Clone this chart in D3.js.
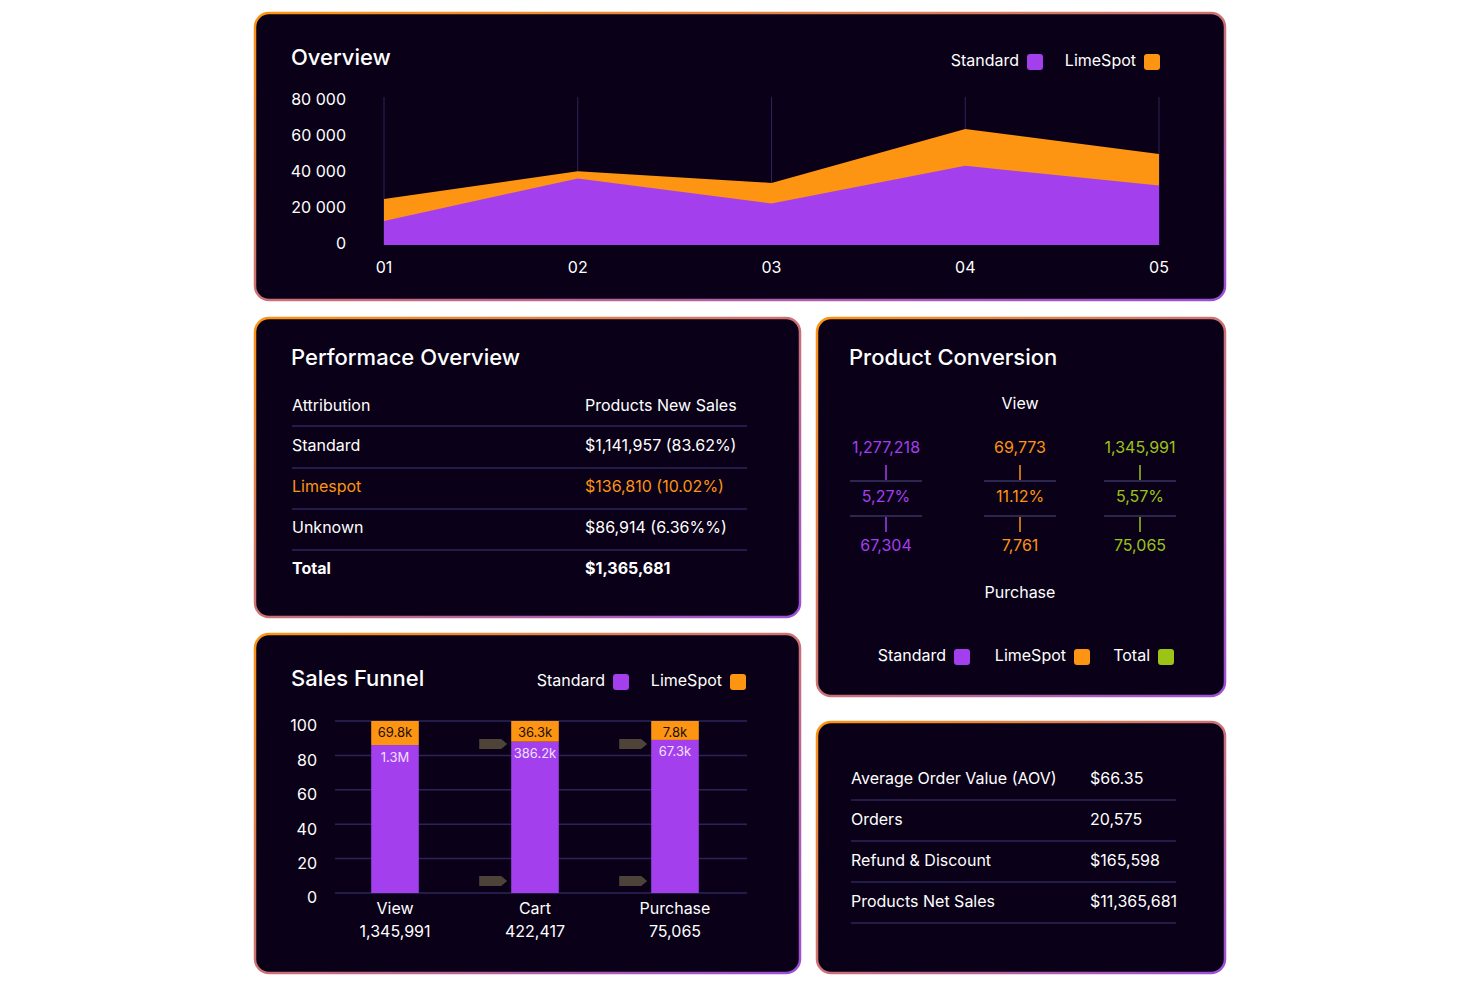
<!DOCTYPE html>
<html><head><meta charset="utf-8">
<script src="https://cdn.jsdelivr.net/npm/d3@7"></script>
<style>body{margin:0;background:#fff}svg{display:block;font-family:Inter,"Open Sans",sans-serif}</style>
</head><body><svg id="c" width="1480" height="987"></svg>
<script>
const periods=["01","02","03","04","05"];
const standardArea=[13300,37000,23000,44000,33000];
const limespotArea=[12200,4000,11500,20500,17500];
const areaTicks=[0,20000,40000,60000,80000];
const perfRows=[["Standard","$1,141,957 (83.62%)"],["Limespot","$136,810 (10.02%)"],["Unknown","$86,914 (6.36%%)"],["Total","$1,365,681"]];
const convCols=[{top:"1,277,218",mid:"5,27%",bot:"67,304",c:"#a43fee"},{top:"69,773",mid:"11.12%",bot:"7,761",c:"#fd9412"},{top:"1,345,991",mid:"5,57%",bot:"75,065",c:"#9dc316"}];
const funnelStages=["View","Cart","Purchase"];
const funnelTotals=["1,345,991","422,417","75,065"];
const funnelStd=[86,88,89];
const funnelLime=[14,12,11];
const funnelStdLbl=["1.3M","386.2k","67.3k"];
const funnelLimeLbl=["69.8k","36.3k","7.8k"];
const funnelTicks=[0,20,40,60,80,100];
const kpiRows=[["Average Order Value (AOV)","$66.35"],["Orders","20,575"],["Refund & Discount","$165,598"],["Products Net Sales","$11,365,681"]];

const P="#a43fee",O="#fd9412",G="#9dc316",BG="#0a0118",GRID="#2c2458";
const svg=d3.select("#c");
const defs=svg.append("defs");
const gr=defs.append("linearGradient").attr("id","bd").attr("x1","0").attr("y1","0").attr("x2","1").attr("y2","1");
gr.append("stop").attr("offset","0").attr("stop-color",O);
gr.append("stop").attr("offset","1").attr("stop-color","#9b4fd8");
function panel(x,y,w,h){svg.append("rect").attr("x",x).attr("y",y).attr("width",w).attr("height",h).attr("rx",14).attr("fill",BG).attr("stroke","url(#bd)").attr("stroke-width",2.5);}
function txt(x,y,t,o={}){return svg.append("text").attr("x",x).attr("y",y).text(t).attr("fill",o.fill||"#fff").attr("font-size",o.size||16).attr("text-anchor",o.anchor||"start").attr("font-weight",o.weight||400).attr("dominant-baseline","middle");}
function legend(items,y){items.forEach(([l,c,x])=>{txt(x,y,l,{anchor:"end",size:16});svg.append("rect").attr("x",x+8).attr("y",y-8).attr("width",16).attr("height",16).attr("rx",3).attr("fill",c);});}

// Overview
panel(255,13,970,287);
txt(291,59,"Overview",{size:22,weight:500});
legend([["Standard",P,1019],["LimeSpot",O,1136]],62);
const x=d3.scalePoint().domain(periods).range([384,1159]);
const y=d3.scaleLinear().domain([0,80000]).range([245,101]);
periods.forEach(p=>svg.append("line").attr("x1",x(p)).attr("x2",x(p)).attr("y1",97).attr("y2",245).attr("stroke",GRID));
const tot=periods.map((p,i)=>standardArea[i]+limespotArea[i]);
svg.append("path").datum(periods).attr("fill",O).attr("d",d3.area().x(d=>x(d)).y0(y(0)).y1((d,i)=>y(tot[i])));
svg.append("path").datum(periods).attr("fill",P).attr("d",d3.area().x(d=>x(d)).y0(y(0)).y1((d,i)=>y(standardArea[i])));
areaTicks.forEach(t=>txt(346,y(t),d3.format(",")(t).replace(/,/g," "),{anchor:"end"}));
periods.forEach(p=>txt(x(p),269,p,{anchor:"middle"}));

// Performance
panel(255,318,545,299);
txt(291,359,"Performace Overview",{size:22,weight:500});
txt(292,407,"Attribution");txt(585,407,"Products New Sales");
svg.append("line").attr("x1",292).attr("x2",747).attr("y1",426).attr("y2",426).attr("stroke",GRID).attr("stroke-width",1.5);
perfRows.forEach((r,i)=>{const yy=447+i*41;const o=i==1?{fill:O}:i==3?{weight:700}:{};
 txt(292,yy,r[0],o);txt(585,yy,r[1],o);
 if(i<3)svg.append("line").attr("x1",292).attr("x2",747).attr("y1",yy+21).attr("y2",yy+21).attr("stroke",GRID).attr("stroke-width",1.5);});

// Product conversion
panel(817,318,408,378);
txt(849,359,"Product Conversion",{size:22,weight:500});
txt(1020,405,"View",{anchor:"middle"});
txt(1020,594,"Purchase",{anchor:"middle"});
[886,1020,1140].forEach((cx,i)=>{const c=convCols[i];
 txt(cx,449,c.top,{anchor:"middle",fill:c.c});txt(cx,498,c.mid,{anchor:"middle",fill:c.c});txt(cx,547,c.bot,{anchor:"middle",fill:c.c});
 [[465,480],[517,532]].forEach(([a,b])=>svg.append("line").attr("x1",cx).attr("x2",cx).attr("y1",a).attr("y2",b).attr("stroke",c.c).attr("stroke-width",1.5));
 [481,516].forEach(yy=>svg.append("line").attr("x1",cx-36).attr("x2",cx+36).attr("y1",yy).attr("y2",yy).attr("stroke","#3a3360").attr("stroke-width",1.5));});
legend([["Standard",P,946],["LimeSpot",O,1066],["Total",G,1150]],657);

// Sales funnel
panel(255,634,545,339);
txt(291,680,"Sales Funnel",{size:22,weight:500});
legend([["Standard",P,605],["LimeSpot",O,722]],682);
const fy=d3.scaleLinear().domain([0,100]).range([893,721]);
const fx=d3.scaleBand().domain(funnelStages).range([325,745]).paddingInner(0.66).paddingOuter(0.33);
funnelTicks.forEach(t=>{svg.append("line").attr("x1",335).attr("x2",747).attr("y1",fy(t)).attr("y2",fy(t)).attr("stroke",GRID).attr("stroke-width",1.5);txt(317,fy(t)+6,t,{anchor:"end"});});
funnelStages.forEach((s,i)=>{const bx=fx(s),bw=fx.bandwidth(),cx=bx+bw/2;
 svg.append("rect").attr("x",bx).attr("y",fy(funnelStd[i])).attr("width",bw).attr("height",fy(0)-fy(funnelStd[i])).attr("fill",P);
 svg.append("rect").attr("x",bx).attr("y",fy(funnelStd[i]+funnelLime[i])).attr("width",bw).attr("height",fy(funnelStd[i])-fy(funnelStd[i]+funnelLime[i])).attr("fill",O);
 txt(cx,fy(funnelStd[i]+funnelLime[i])+12,funnelLimeLbl[i],{anchor:"middle",size:13,fill:"#1a0f05"});
 txt(cx,fy(funnelStd[i])+13,funnelStdLbl[i],{anchor:"middle",size:13,fill:"#f0e0ff"});
 txt(cx,910,s,{anchor:"middle"});txt(cx,933,funnelTotals[i],{anchor:"middle"});
 if(i>0)[744,881].forEach(ay=>{const ax=bx-32;svg.append("path").attr("d",`M${ax},${ay-5}h22l6,5l-6,5h-22z`).attr("fill","#4d4339");});});

// KPI
panel(817,722,408,251);
kpiRows.forEach((r,i)=>{const yy=780+i*41;txt(851,yy,r[0]);txt(1090,yy,r[1]);
 svg.append("line").attr("x1",851).attr("x2",1176).attr("y1",yy+20).attr("y2",yy+20).attr("stroke",GRID).attr("stroke-width",1.5);});
</script></body></html>
